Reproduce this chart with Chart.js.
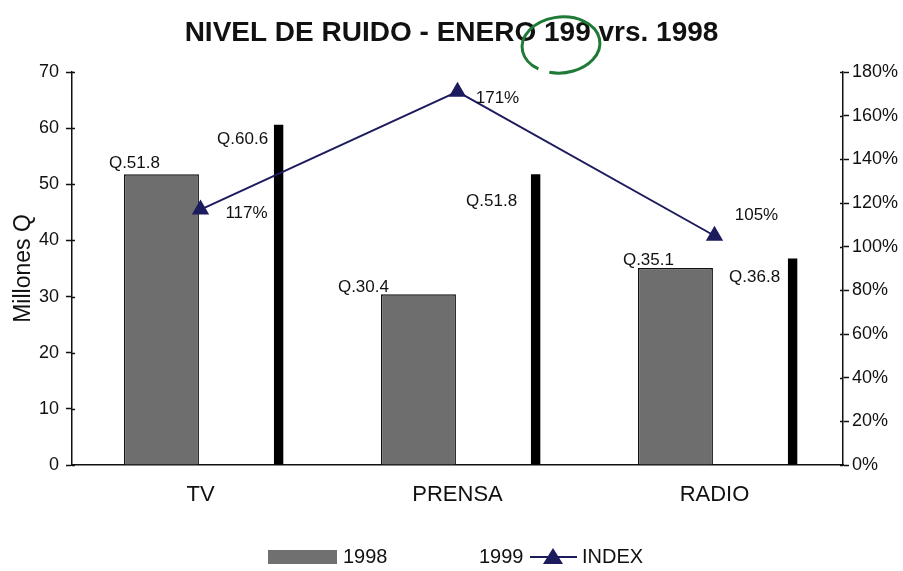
<!DOCTYPE html>
<html>
<head>
<meta charset="utf-8">
<script src="https://cdn.jsdelivr.net/npm/chart.js@4.4.1/dist/chart.umd.min.js"></script>
<style>
  html, body { margin: 0; padding: 0; background: #fff; }
  #wrap { width: 903px; height: 571px; }
</style>
</head>
<body>
<div id="wrap"><canvas id="ruido" width="903" height="571"></canvas></div>
<script>
const categories = ["TV", "PRENSA", "RADIO"];
const val1998 = [51.8, 30.4, 35.1];
const val1999 = [60.6, 51.8, 36.8];
const indexPct = [117, 171, 105];
const leftTicks = [0, 10, 20, 30, 40, 50, 60, 70];
const rightTicks = [0, 20, 40, 60, 80, 100, 120, 140, 160, 180];

const FONT = "'Liberation Sans', Arial, sans-serif";
const NAVY = "#1c1b5e";
const empty = categories.map(() => null);

// where the value labels sit relative to each bar top / point (like the original)
const off1998 = [[-27, -11], [-55, -7], [-27, -8]];
const off1999 = [[-36, 15], [-44, 27], [-38, 19]];
const offIdx = [[46, 4], [40, 7], [42, -20]];

const labelPlugin = {
  id: "labels",
  afterDatasetsDraw(chart){
    const ctx = chart.ctx;
    ctx.save();
    ctx.font = "17px " + FONT;
    ctx.fillStyle = "#111";
    ctx.textAlign = "center";
    ctx.textBaseline = "middle";
    const put = (dsIndex, vals, offs, fmt) => {
      chart.getDatasetMeta(dsIndex).data.forEach((el, i) => {
        ctx.fillText(fmt(vals[i]), el.x + offs[i][0], el.y + offs[i][1]);
      });
    };
    put(1, val1998, off1998, v => "Q." + v);
    put(4, val1999, off1999, v => "Q." + v);
    put(5, indexPct, offIdx, v => v + "%");
    ctx.restore();
  },
  afterDraw(chart){
    const ctx = chart.ctx;
    ctx.save();
    // tick marks cross the axis line a little
    ctx.strokeStyle = "#111";
    ctx.lineWidth = 1.5;
    ["y", "y2"].forEach(id => {
      const sc = chart.scales[id];
      const x = id === "y" ? sc.right : sc.left;
      const dir = id === "y" ? 1 : -1;
      sc.ticks.forEach(t => {
        const py = Math.round(sc.getPixelForValue(t.value)) + 0.5;
        ctx.beginPath();
        ctx.moveTo(x, py); ctx.lineTo(x + dir * 3, py);
        ctx.stroke();
      });
    });

    // hand drawn circle round "199"
    ctx.strokeStyle = "#1f7a35";
    ctx.lineWidth = 3;
    ctx.beginPath();
    ctx.ellipse(561, 45, 39, 28, -0.1, 0.72 * Math.PI, 2.62 * Math.PI);
    ctx.stroke();

    // legend
    const ly = 557;
    ctx.fillStyle = "#707070";
    ctx.fillRect(268, ly - 7, 69, 14);
    ctx.font = "20px " + FONT;
    ctx.fillStyle = "#111";
    ctx.textBaseline = "middle";
    ctx.textAlign = "left";
    ctx.fillText("1998", 343, ly);
    ctx.fillText("1999", 479, ly);
    ctx.strokeStyle = NAVY;
    ctx.lineWidth = 2;
    ctx.beginPath();
    ctx.moveTo(530, ly); ctx.lineTo(577, ly);
    ctx.stroke();
    ctx.fillStyle = NAVY;
    ctx.beginPath();
    ctx.moveTo(553, ly - 9); ctx.lineTo(563, ly + 7); ctx.lineTo(543, ly + 7);
    ctx.closePath(); ctx.fill();
    ctx.fillStyle = "#111";
    ctx.fillText("INDEX", 582, ly);
    ctx.restore();
  }
};

const spacer = { type: "bar", label: "", data: empty, order: 1 };

new Chart(document.getElementById("ruido"), {
  type: "bar",
  data: {
    labels: categories,
    datasets: [
      Object.assign({}, spacer),
      {
        type: "bar", label: "1998", data: val1998, order: 1,
        backgroundColor: "#6e6e6e", borderColor: "#111", borderWidth: 1.5,
        barPercentage: 1.92
      },
      Object.assign({}, spacer),
      Object.assign({}, spacer),
      {
        type: "bar", label: "1999", data: val1999, order: 1,
        backgroundColor: "#000", borderWidth: 0,
        barPercentage: 0.24
      },
      {
        type: "line", label: "INDEX", data: indexPct, yAxisID: "y2", order: 0,
        borderColor: NAVY, borderWidth: 2, backgroundColor: NAVY,
        pointStyle: "triangle", pointRadius: 10, pointBorderWidth: 0,
        tension: 0
      }
    ]
  },
  options: {
    responsive: false,
    animation: false,
    categoryPercentage: 0.76,
    layout: { padding: { left: 0, right: 0, top: 0, bottom: 0 } },
    plugins: {
      legend: { display: false },
      tooltip: { enabled: false },
      title: {
        display: true,
        text: "NIVEL DE RUIDO - ENERO 199 vrs. 1998",
        color: "#111",
        font: { family: FONT, size: 28, weight: "bold" },
        padding: { top: 16, bottom: 22.4 }
      }
    },
    scales: {
      x: {
        grid: { display: false, drawTicks: false },
        border: { color: "#111", width: 1.5 },
        ticks: { color: "#111", font: { family: FONT, size: 22 }, padding: 17 },
        afterFit(s){ s.height = 106; }
      },
      y: {
        position: "left",
        min: 0, max: 70,
        afterBuildTicks(s){ s.ticks = leftTicks.map(v => ({ value: v })); },
        grid: { drawOnChartArea: false, tickLength: 6, tickColor: "#111", tickWidth: 1.5 },
        border: { color: "#111", width: 1.5 },
        ticks: { color: "#111", font: { family: FONT, size: 18 }, padding: 7 },
        title: { display: true, text: "Millones Q", color: "#111", font: { family: FONT, size: 23 }, padding: { top: 10 } },
        afterFit(s){ s.width = 72; }
      },
      y2: {
        position: "right",
        min: 0, max: 180,
        afterBuildTicks(s){ s.ticks = rightTicks.map(v => ({ value: v })); },
        grid: { drawOnChartArea: false, tickLength: 6, tickColor: "#111", tickWidth: 1.5 },
        border: { color: "#111", width: 1.5 },
        ticks: { color: "#111", font: { family: FONT, size: 18 }, padding: 3, callback: v => v + "%" },
        afterFit(s){ s.width = 60; }
      }
    }
  },
  plugins: [labelPlugin]
});
</script>
</body>
</html>
